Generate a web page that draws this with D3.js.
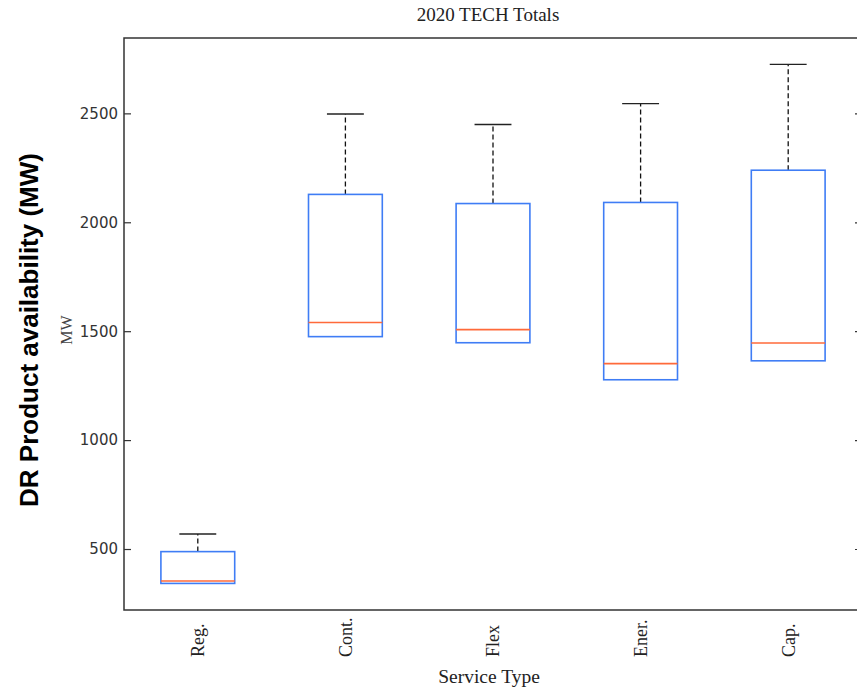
<!DOCTYPE html>
<html>
<head>
<meta charset="utf-8">
<script src="https://cdn.jsdelivr.net/npm/d3@7"></script>
<style>
  body { margin: 0; background: #fff; }
  svg { display: block; }
</style>
</head>
<body>
<div id="chart"><svg></svg></div>
<script>
// values (MW)
const categories = ['Reg.', 'Cont.', 'Flex', 'Ener.', 'Cap.']
const q1Values = [342, 1475, 1447, 1277, 1364]
const medianValues = [353, 1540, 1507, 1351, 1446]
const q3Values = [488, 2128, 2086, 2091, 2239]
const upperWhisker = [569, 2497, 2449, 2545, 2725]
const lowerWhisker = [342, 1475, 1447, 1277, 1364]
const yTicks = [500, 1000, 1500, 2000, 2500]

const width = 857
const height = 692
const plot = { left: 124, right: 862, top: 38, bottom: 610 }

const svg = d3.select('#chart').select('svg')
  .attr('width', width)
  .attr('height', height)

const xScale = d3.scaleBand()
  .domain(categories)
  .range([plot.left, plot.right])
  .padding(0)

const yScale = d3.scaleLinear()
  .domain([220, 2846])
  .range([plot.bottom, plot.top])

const boxes = categories.map((c, i) => ({
  name: c,
  q1: q1Values[i],
  med: medianValues[i],
  q3: q3Values[i],
  hi: upperWhisker[i],
  lo: lowerWhisker[i]
}))

/*** axes ***/
svg.append('g')
  .attr('class', 'y axis')
  .attr('transform', 'translate(' + plot.left + ',0)')
  .call(d3.axisLeft(yScale).tickValues(yTicks).tickSize(-7).tickPadding(6).tickFormat(d3.format('d')))
  .call(g => g.select('.domain').remove())
  .call(g => g.selectAll('line').attr('stroke', '#333').attr('stroke-width', 1.2))
  .call(g => g.selectAll('text')
    .attr('font-family', 'DejaVu Sans')
    .attr('font-size', 15)
    .attr('fill', '#333'))

svg.append('g')
  .attr('class', 'y axis-right')
  .attr('transform', 'translate(' + plot.right + ',0)')
  .call(d3.axisRight(yScale).tickValues(yTicks).tickSize(-7).tickFormat(''))
  .call(g => g.select('.domain').remove())
  .call(g => g.selectAll('line').attr('stroke', '#333').attr('stroke-width', 1.2))

svg.append('g')
  .attr('class', 'x axis')
  .attr('transform', 'translate(0,' + plot.bottom + ')')
  .call(d3.axisBottom(xScale).tickSize(0))
  .call(g => g.select('.domain').remove())
  .call(g => g.selectAll('text')
    .attr('transform', 'translate(0,47) rotate(-90)')
    .attr('x', 0)
    .attr('y', 0)
    .attr('dy', '0.35em')
    .attr('text-anchor', 'start')
    .attr('font-family', 'Liberation Serif')
    .attr('font-size', 18)
    .attr('fill', '#222'))

// frame
svg.append('path')
  .attr('d', 'M' + plot.right + ',' + plot.top + 'H' + plot.left + 'V' + plot.bottom + 'H' + plot.right)
  .attr('fill', 'none')
  .attr('stroke', '#333')
  .attr('stroke-width', 1.5)

/*** boxes ***/
const boxW = xScale.bandwidth() / 2
const capW = boxW / 2

const g = svg.append('g').attr('class', 'boxes')

const box = g.selectAll('.box')
  .data(boxes)
  .enter()
  .append('g')
  .attr('class', 'box')
  .attr('transform', d => 'translate(' + (xScale(d.name) + xScale.bandwidth() / 2) + ',0)')

// upper whisker
box.append('line')
  .attr('x1', 0).attr('x2', 0)
  .attr('y1', d => yScale(d.q3))
  .attr('y2', d => yScale(d.hi))
  .attr('stroke', '#111')
  .attr('stroke-width', 1.3)
  .attr('stroke-dasharray', '5,3')

box.append('line')
  .attr('x1', -capW / 2).attr('x2', capW / 2)
  .attr('y1', d => yScale(d.hi))
  .attr('y2', d => yScale(d.hi))
  .attr('stroke', '#222')
  .attr('stroke-width', 1.3)

// lower whisker (zero length here)
box.append('line')
  .attr('x1', 0).attr('x2', 0)
  .attr('y1', d => yScale(d.q1))
  .attr('y2', d => yScale(d.lo))
  .attr('stroke', '#111')
  .attr('stroke-width', 1.3)
  .attr('stroke-dasharray', '5,3')

box.append('rect')
  .attr('x', -boxW / 2)
  .attr('width', boxW)
  .attr('y', d => yScale(d.q3))
  .attr('height', d => yScale(d.q1) - yScale(d.q3))
  .attr('fill', 'none')
  .attr('stroke', '#3f7df5')
  .attr('stroke-width', 1.6)

box.append('line')
  .attr('x1', -boxW / 2).attr('x2', boxW / 2)
  .attr('y1', d => yScale(d.med))
  .attr('y2', d => yScale(d.med))
  .attr('stroke', '#ff6a3a')
  .attr('stroke-width', 1.6)

/*** labels ***/
svg.append('text')
  .text('2020 TECH Totals')
  .attr('x', 488)
  .attr('y', 21)
  .attr('text-anchor', 'middle')
  .attr('font-family', 'Liberation Serif')
  .attr('font-size', 19)
  .attr('fill', '#222')

svg.append('text')
  .text('Service Type')
  .attr('x', 489)
  .attr('y', 683)
  .attr('text-anchor', 'middle')
  .attr('font-family', 'Liberation Serif')
  .attr('font-size', 19.5)
  .attr('fill', '#222')

svg.append('text')
  .text('MW')
  .attr('transform', 'translate(72,330) rotate(-90)')
  .attr('text-anchor', 'middle')
  .attr('font-family', 'Liberation Serif, serif')
  .attr('font-size', 16)
  .attr('fill', '#444')

svg.append('text')
  .text('DR Product availability (MW)')
  .attr('transform', 'translate(38,330) rotate(-90)')
  .attr('text-anchor', 'middle')
  .attr('font-family', 'Liberation Sans, Arial, sans-serif')
  .attr('font-weight', 'bold')
  .attr('font-size', 26)
  .attr('fill', '#000')
</script>
</body>
</html>
